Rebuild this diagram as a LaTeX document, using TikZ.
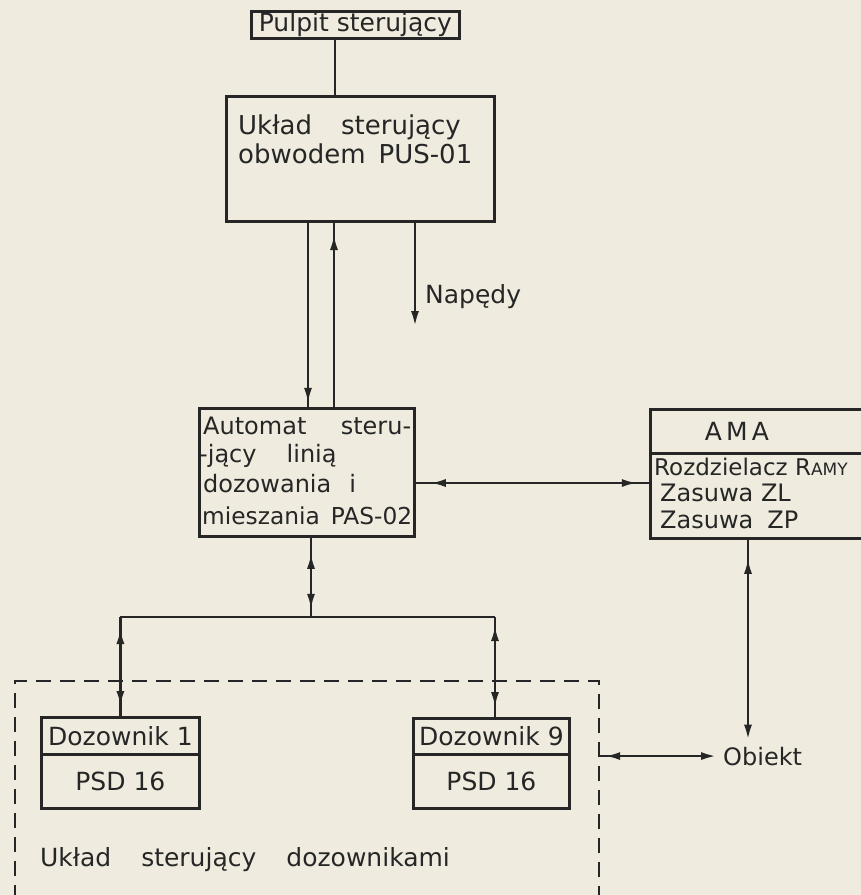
\documentclass[tikz,border=0pt]{standalone}
\usepackage{fontspec}
\setmainfont{DejaVu Sans}
\usetikzlibrary{arrows.meta,decorations.markings}
\definecolor{paper}{RGB}{239,236,223}
\definecolor{ink}{RGB}{38,38,38}
\tikzset{
  box/.style={draw=ink, line width=2.8pt, rectangle, inner sep=0pt, anchor=north west, text=ink, font=\fontsize{25}{30}\selectfont},
  lbl/.style={text=ink, inner sep=0pt, anchor=base west, font=\fontsize{25}{30}\selectfont},
  wire/.style={ink, line width=2.8pt},
  fwd/.style={postaction={decorate, decoration={markings, mark=at position #1 with {\arrow{Latex[length=16pt,width=8pt]}}}}},
  bwd/.style={postaction={decorate, decoration={markings, mark=at position #1 with {\arrowreversed{Latex[length=16pt,width=8pt]}}}}},
  endtip/.style={-{Latex[length=16pt,width=8pt]}},
  dashframe/.style={draw=ink, line width=2.2pt, dash pattern=on 15pt off 9pt, inner sep=0pt, anchor=north west},
}
\begin{document}
\begin{tikzpicture}[x=1pt,y=-1pt]
\useasboundingbox (0,0) rectangle (861,895);
\fill[paper] (0,0) rectangle (861,895);

% top control desk and PUS-01
\node[box, minimum width=208pt, minimum height=27pt] (pulpit) at (250,10) {Pulpit sterujący};
\node[box, minimum width=268pt, minimum height=125pt] (pus) at (225,95) {};
\node[lbl, font=\fontsize{26}{30}\selectfont] (pus1) at (238,134) {Układ\hspace{29pt}sterujący};
\node[lbl, font=\fontsize{26}{30}\selectfont] (pus2) at (238,163) {obwodem\hspace{13pt}PUS-01};
\node[lbl] (naped) at (425,303) {Napędy};
\coordinate (napedEnd) at (415,327);

% PAS-02
\node[box, minimum width=215pt, minimum height=128pt] (auto) at (198,407) {};
\node[lbl, font=\fontsize{24}{28}\selectfont] (auto1) at (203,434) {\hbox to 208pt{Automat\hfill steru-}};
\node[lbl, font=\fontsize{24}{28}\selectfont] (auto2) at (199,462) {-jący\hspace{30pt}linią};
\node[lbl, font=\fontsize{24}{28}\selectfont] (auto3) at (203,492) {dozowania\hspace{18pt}i};
\node[lbl, font=\fontsize{23.3}{28}\selectfont] (auto4) at (202,524) {\hbox to 210pt{mieszania\hfill PAS-02}};

% AMA
\node[box, minimum width=240pt, minimum height=44pt] (amaT) at (649,408) {};
\node[lbl, anchor=base] (amaL) at (737,440) {A\,M\,A};
\node[box, minimum width=240pt, minimum height=85pt] (amaB) at (649,452) {};
\node[lbl, font=\fontsize{23}{28}\selectfont] (ama1) at (654,475) {Rozdzielacz R{\fontsize{17}{20}\selectfont AMY}};
\node[lbl, font=\fontsize{24}{28}\selectfont] (ama2) at (660,501) {Zasuwa ZL};
\node[lbl, font=\fontsize{24}{28}\selectfont] (ama3) at (660,528) {Zasuwa\hspace{14pt}ZP};

% Obiekt
\node[lbl, font=\fontsize{24}{28}\selectfont] (obiekt) at (723,765) {Obiekt};

% dosing units
\node[dashframe, minimum width=584pt, minimum height=260pt] (dbox) at (14,680) {};
\node[box, minimum width=158pt, minimum height=37pt] (doz1) at (40,716) {Dozownik 1};
\node[box, minimum width=158pt, minimum height=54pt] (psd1) at (40,753) {PSD 16};
\node[box, minimum width=156pt, minimum height=36pt] (doz9) at (412,717) {Dozownik 9};
\node[box, minimum width=156pt, minimum height=54pt] (psd9) at (412,753) {PSD 16};
\node[lbl] (dlabel) at (40,866) {Układ\hspace{30pt}sterujący\hspace{30pt}dozownikami};

% connectors
\coordinate (hy) at (0,483);
\coordinate (bus) at (0,617);
\draw[wire] (335,0 |- pulpit.south) -- (335,0 |- pus.north);
\draw[wire, fwd=181pt] (308,0 |- pus.south) -- (308,0 |- auto.north);
\draw[wire, fwd=173pt] (334,0 |- auto.north) -- (334,0 |- pus.south);
\draw[wire, endtip] (415,0 |- pus.south) -- (napedEnd);
\draw[wire, bwd=14pt, fwd=222pt] (auto.east |- hy) -- (amaB.west |- hy);
\draw[wire, bwd=15pt, fwd=72pt] (311,0 |- auto.south) -- (311,0 |- bus);
\draw[wire] (doz1.north |- bus) -- (495,0 |- bus);
\draw[wire, bwd=11pt, fwd=90pt] (doz1.north |- bus) -- (doz1.north);
\draw[wire, bwd=8pt, fwd=91pt] (495,0 |- bus) -- (495,0 |- doz9.north);
\draw[wire, bwd=18pt, endtip, shorten >=6pt] (748,0 |- amaB.south) -- (748,0 |- obiekt.north);
\draw[wire, bwd=4pt, endtip] (dbox.east |- obiekt.west) -- ([xshift=-6pt]obiekt.west);
\end{tikzpicture}
\end{document}
